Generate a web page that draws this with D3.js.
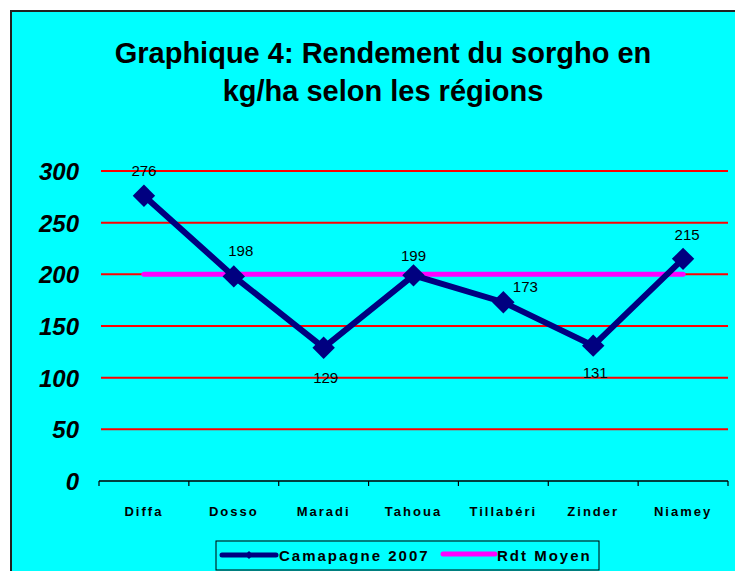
<!DOCTYPE html>
<html>
<head>
<meta charset="utf-8">
<script src="https://cdn.jsdelivr.net/npm/d3@7"></script>
<style>
  body { margin: 0; background: #fff; }
  text { font-family: Arial, "Liberation Sans", sans-serif; }
</style>
</head>
<body>
<div id="chart"></div>
<script>
// data
var regions = ["Diffa", "Dosso", "Maradi", "Tahoua", "Tillabéri", "Zinder", "Niamey"]
var campagne2007 = [276, 198, 129, 199, 173, 131, 215]
var rdtMoyen = [200, 200, 200, 200, 200, 200, 200]
var yTicks = [0, 50, 100, 150, 200, 250, 300]
var titleLines = ["Graphique 4: Rendement du sorgho en", "kg/ha selon les régions"]
var legendNames = ["Camapagne 2007", "Rdt Moyen"]

var W = 735, H = 571
var plotLeft = 99, plotRight = 728, plotTop = 171, plotBottom = 481

var svg = d3.select("#chart").append("svg")
  .attr("width", W).attr("height", H)

// background frame
svg.append("rect")
  .attr("x", 11).attr("y", 11)
  .attr("width", W).attr("height", H)
  .attr("fill", "#00ffff")
  .attr("stroke", "#222").attr("stroke-width", 2)

// title
svg.selectAll(".title")
  .data(titleLines)
  .enter().append("text")
  .attr("x", 383)
  .attr("y", (d, i) => 63 + i * 38)
  .attr("text-anchor", "middle")
  .style("font-size", "29px")
  .style("font-weight", "bold")
  .text(d => d)

// scales
var x = d3.scaleBand().domain(regions).range([plotLeft, plotRight])
var y = d3.scaleLinear().domain([0, 300]).range([plotBottom, plotTop])

// gridlines
svg.selectAll(".grid")
  .data(yTicks.filter(d => d > 0))
  .enter().append("line")
  .attr("x1", plotLeft + 2).attr("x2", plotRight)
  .attr("y1", d => y(d)).attr("y2", d => y(d))
  .attr("stroke", "#ff0000").attr("stroke-width", 2)

// y labels
svg.selectAll(".ylab")
  .data(yTicks)
  .enter().append("text")
  .attr("x", 79)
  .attr("y", d => y(d) + 9)
  .attr("text-anchor", "end")
  .style("font-size", "24px")
  .style("font-weight", "bold")
  .style("font-style", "italic")
  .text(d => d)

// x axis
var xAxis = svg.append("g")
  .attr("transform", `translate(0, ${plotBottom})`)
  .call(d3.axisBottom(x).tickSize(0).tickFormat(""))
xAxis.select(".domain").attr("stroke", "#000").attr("stroke-width", 1.5)
  .attr("d", `M${plotLeft},0H${plotRight}`)
xAxis.selectAll(".tickmark")
  .data(d3.range(regions.length + 1))
  .enter().append("line")
  .attr("x1", d => plotLeft + d * x.bandwidth())
  .attr("x2", d => plotLeft + d * x.bandwidth())
  .attr("y1", 0).attr("y2", 5)
  .attr("stroke", "#000").attr("stroke-width", 1.2)

svg.selectAll(".xlab")
  .data(regions)
  .enter().append("text")
  .attr("x", d => x(d) + x.bandwidth() / 2)
  .attr("y", 516)
  .attr("text-anchor", "middle")
  .style("font-size", "13px")
  .style("font-weight", "bold")
  .style("letter-spacing", "2px")
  .text(d => d)

var cx = d => x(d) + x.bandwidth() / 2

// average line
svg.append("path")
  .datum(rdtMoyen)
  .attr("d", d3.line().x((d, i) => cx(regions[i])).y(d => y(d)))
  .attr("fill", "none")
  .attr("stroke", "#ff00ff")
  .attr("stroke-width", 5)
  .attr("stroke-linecap", "round")

// campaign line
svg.append("path")
  .datum(campagne2007)
  .attr("d", d3.line().x((d, i) => cx(regions[i])).y(d => y(d)))
  .attr("fill", "none")
  .attr("stroke", "#000080")
  .attr("stroke-width", 6)

svg.selectAll(".marker")
  .data(campagne2007)
  .enter().append("path")
  .attr("d", d3.symbol().type(d3.symbolDiamond2).size(320))
  .attr("transform", (d, i) => `translate(${cx(regions[i])}, ${y(d)})`)
  .attr("fill", "#000080")

// value labels
var labelOffsets = [[0, -20], [7, -20], [2, 35], [0, -14], [22, -10], [2, 32], [4, -19]]
svg.selectAll(".vlab")
  .data(campagne2007)
  .enter().append("text")
  .attr("x", (d, i) => cx(regions[i]) + labelOffsets[i][0])
  .attr("y", (d, i) => y(d) + labelOffsets[i][1])
  .attr("text-anchor", "middle")
  .style("font-size", "15px")
  .text(d => d)

// legend
var lg = svg.append("g")
lg.append("rect")
  .attr("x", 216).attr("y", 541)
  .attr("width", 383).attr("height", 29)
  .attr("fill", "none").attr("stroke", "#000").attr("stroke-width", 1)
lg.append("line")
  .attr("x1", 222).attr("x2", 276).attr("y1", 555).attr("y2", 555)
  .attr("stroke", "#000080").attr("stroke-width", 5).attr("stroke-linecap", "round")
lg.append("path")
  .attr("d", d3.symbol().type(d3.symbolDiamond2).size(40))
  .attr("transform", "translate(249, 555)")
  .attr("fill", "#000080")
lg.append("line")
  .attr("x1", 443).attr("x2", 495).attr("y1", 554).attr("y2", 554)
  .attr("stroke", "#ff00ff").attr("stroke-width", 5).attr("stroke-linecap", "round")
lg.selectAll(".ltext")
  .data(legendNames)
  .enter().append("text")
  .attr("x", (d, i) => i == 0 ? 279 : 497)
  .attr("y", 561)
  .style("font-size", "15px")
  .style("font-weight", "bold")
  .style("letter-spacing", "2px")
  .text(d => d)
</script>
</body>
</html>
